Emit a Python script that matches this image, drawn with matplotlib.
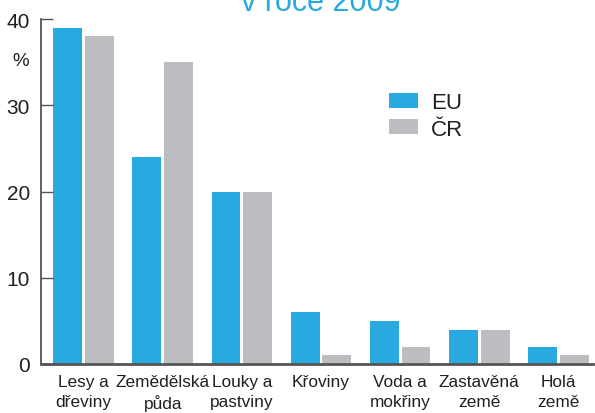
import numpy as np
import matplotlib
matplotlib.use('Agg')
import matplotlib.pyplot as plt

plt.rcParams['font.family'] = ['Liberation Sans', 'DejaVu Sans']

categories = ['Lesy a\ndřeviny', 'Zemědělská\npůda', 'Louky a\npastviny', 'Křoviny',
              'Voda a\nmokřiny', 'Zastavěná\nzemě', 'Holá\nzemě']
eu = [39, 24, 20, 6, 5, 4, 2]
cr = [38, 35, 20, 1, 2, 4, 1]
yticks = [0, 10, 20, 30, 40]

blue = '#29a9e1'
grey = '#bcbdc0'
txt = '#231f20'

fig = plt.figure(figsize=(5.95, 4.14), dpi=100)
ax = fig.add_axes([41/595, 49/414, 552/595, 345/414])

x = np.arange(len(categories))
w = 0.366
ax.bar(x - 0.2, eu, w, color=blue, label='EU')
ax.bar(x + 0.2, cr, w, color=grey, label='ČR')

ax.set_xlim(-0.537, 6.436)
ax.set_ylim(0, 40)
ax.set_yticks(yticks)
ax.set_xticks(x)
ax.set_xticklabels(categories, fontsize=12.4, color=txt, linespacing=1.4)
ax.tick_params(axis='x', length=0, pad=7)
ax.tick_params(axis='y', direction='in', length=8.6, width=1, color='#555555',
               labelsize=15, labelcolor=txt, pad=8)

for s in ['top', 'right']:
    ax.spines[s].set_visible(False)
ax.spines['left'].set_color('#444444')
ax.spines['left'].set_linewidth(1.2)
ax.spines['bottom'].set_color('#555555')
ax.spines['bottom'].set_linewidth(2)

fig.text(21/595, 1 - 62/414, '%', fontsize=13.5, color=txt, ha='center', va='center')
# title is clipped at the top edge, as in the original
fig.text(321/595, 1 - 11/414, 'v roce 2009', fontsize=22, color=blue,
         ha='center', va='baseline')

ax.legend(loc='upper left', bbox_to_anchor=(389/595, 1 - 93/414),
          bbox_transform=fig.transFigure, frameon=False, fontsize=16,
          handlelength=1.3, handleheight=0.68, handletextpad=0.6,
          labelspacing=0.25, borderpad=0, borderaxespad=0, labelcolor=txt)

fig.savefig('out.png', dpi=100)
